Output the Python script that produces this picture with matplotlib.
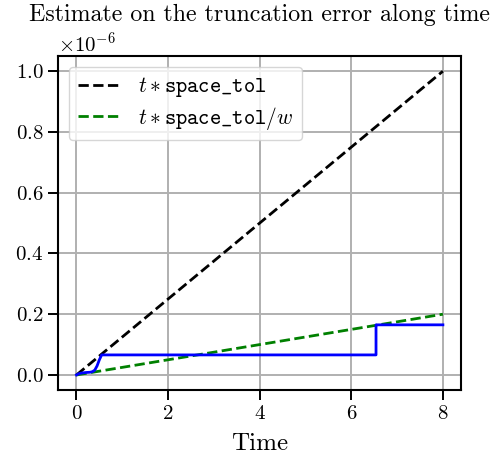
import numpy as np
import matplotlib
matplotlib.use("Agg")
import matplotlib.pyplot as plt

plt.rcParams["font.family"] = "serif"
plt.rcParams["font.serif"] = ["cmr10"]
plt.rcParams["mathtext.fontset"] = "cm"
plt.rcParams["axes.formatter.use_mathtext"] = True
plt.rcParams["axes.unicode_minus"] = False

# data
t_end = 8.0
space_tol = 1.25e-7
w = 5.0
t_lin = [0.0, t_end]
t_err = [0.0, 0.05, 0.1, 0.2, 0.3, 0.35, 0.4, 0.45, 0.5, 0.55, 6.54, 6.54, 8.0]
err = [0.0, 0.004, 0.006, 0.008, 0.009, 0.011, 0.016, 0.03, 0.05, 0.066, 0.066, 0.165, 0.165]

fig, ax = plt.subplots(figsize=(4.97, 4.59), dpi=100)
fig.subplots_adjust(left=0.117, right=0.928, bottom=0.15, top=0.878)

ax.plot(t_lin, [t * space_tol for t in t_lin], "k--", lw=2.0,
        label=r"$t * \mathtt{space\_tol}$")
ax.plot(t_lin, [t * space_tol / w for t in t_lin], "g--", lw=2.0,
        label=r"$t * \mathtt{space\_tol}/w$")
ax.plot(t_err, np.array(err) * 1e-6, "b-", lw=2.0)

ax.set_xticks([0, 2, 4, 6, 8])
ax.set_yticks(np.arange(0, 1.01e-6, 0.2e-6))
ax.tick_params(labelsize=15, length=7, width=1.4)
ax.yaxis.get_offset_text().set_fontsize(15)
ax.grid(True, color="#b0b0b0", lw=1.4)
ax.set_xlabel("Time", fontsize=18, labelpad=7)
ax.set_title("Estimate on the truncation error along time", fontsize=17.2, pad=25)
ax.legend(loc="upper left", fontsize=15.5, borderaxespad=0.5, labelspacing=0.25)
for s in ax.spines.values():
    s.set_linewidth(1.5)

fig.savefig("out.png", dpi=100)
